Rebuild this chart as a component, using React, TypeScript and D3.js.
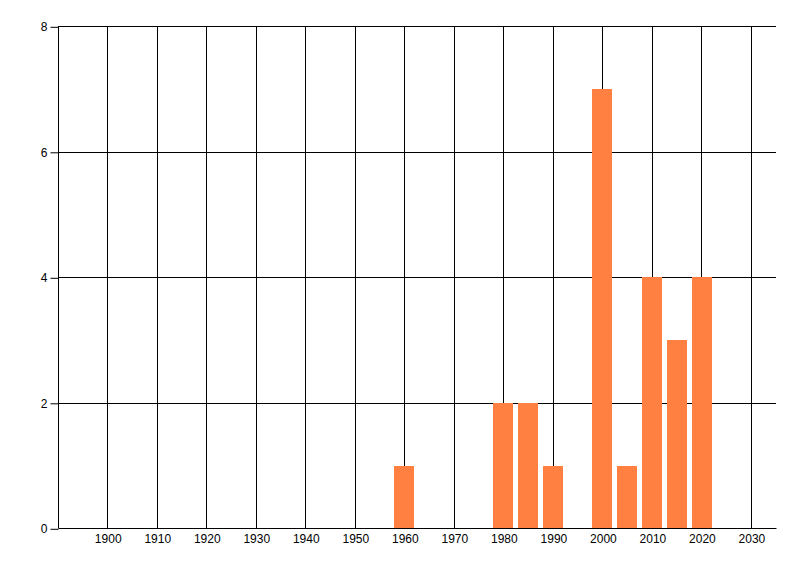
import React, { useRef, useEffect } from "react";
import * as d3 from "d3";

const years = [1960, 1980, 1985, 1990, 2000, 2005, 2010, 2015, 2020];
const counts = [1, 2, 2, 1, 7, 1, 4, 3, 4];
const xTicks = [1900, 1910, 1920, 1930, 1940, 1950, 1960, 1970, 1980, 1990, 2000, 2010, 2020, 2030];
const yTicks = [0, 2, 4, 6, 8];

const WIDTH = 800;
const HEIGHT = 576;

const App = () => {
  const ref = useRef<SVGSVGElement | null>(null);

  useEffect(() => {
    if (!ref.current) return;
    const svg = d3.select(ref.current);
    svg.selectAll("*").remove();

    const left = 57.7;
    const right = 775.7;
    const top = 26.3;
    const bottom = 528.3;

    const x = d3.scaleLinear().domain([1890, 2035]).range([left, right]);
    const y = d3.scaleLinear().domain([0, 8]).range([bottom, top]);
    const barW = x(1894) - x(1890);

    // vertical grid lines
    svg
      .append("g")
      .selectAll("line")
      .data(xTicks)
      .enter()
      .append("line")
      .attr("x1", (d) => Math.round(x(d)) + 0.5)
      .attr("x2", (d) => Math.round(x(d)) + 0.5)
      .attr("y1", Math.round(top) + 0.5)
      .attr("y2", Math.round(bottom) + 0.5)
      .attr("stroke", "#000")
      .attr("stroke-width", 1);

    // horizontal grid lines
    svg
      .append("g")
      .selectAll("line")
      .data(yTicks.filter((d) => d > 0))
      .enter()
      .append("line")
      .attr("x1", Math.round(left))
      .attr("x2", Math.round(right))
      .attr("y1", (d) => Math.round(y(d)) + 0.5)
      .attr("y2", (d) => Math.round(y(d)) + 0.5)
      .attr("stroke", "#000");

    // bars
    svg
      .append("g")
      .selectAll("rect")
      .data(years)
      .enter()
      .append("rect")
      .attr("x", (d) => Math.round(x(d) - barW / 2))
      .attr("width", Math.round(barW))
      .attr("y", (_, i) => Math.round(y(counts[i])))
      .attr("height", (_, i) => Math.round(bottom) - Math.round(y(counts[i])))
      .attr("fill", "#FF8040");

    // y axis
    const yAxis = svg
      .append("g")
      .attr("transform", `translate(${Math.round(left) + 0.5},0.5)`)
      .call(d3.axisLeft(y).tickValues(yTicks).tickSize(8).tickPadding(3).tickFormat((d) => String(d)));
    yAxis.select(".domain").attr("stroke", "#000").attr("d", `M0,${Math.round(top)}V${Math.round(bottom)}`);
    yAxis.selectAll(".tick line").attr("stroke", "#000");
    yAxis
      .selectAll("text")
      .attr("fill", "#000")
      .style("font-family", "Liberation Sans, Arial, sans-serif")
      .style("font-size", "12px");

    // x axis
    const xAxis = svg
      .append("g")
      .attr("transform", `translate(0.5,${Math.round(bottom) + 0.5})`)
      .call(d3.axisBottom(x).tickValues(xTicks).tickSize(0).tickPadding(6).tickFormat((d) => String(d)));
    xAxis.select(".domain").attr("stroke", "#000").attr("d", `M${Math.round(left)},0H${Math.round(right)}`);
    xAxis
      .selectAll("text")
      .attr("fill", "#000")
      .style("font-family", "Liberation Sans, Arial, sans-serif")
      .style("font-size", "12px");
  }, []);

  return (
    <svg
      ref={ref}
      width={WIDTH}
      height={HEIGHT}
      style={{ position: "fixed", left: 0, top: 0, background: "#fff" }}
    />
  );
};

export default App;
